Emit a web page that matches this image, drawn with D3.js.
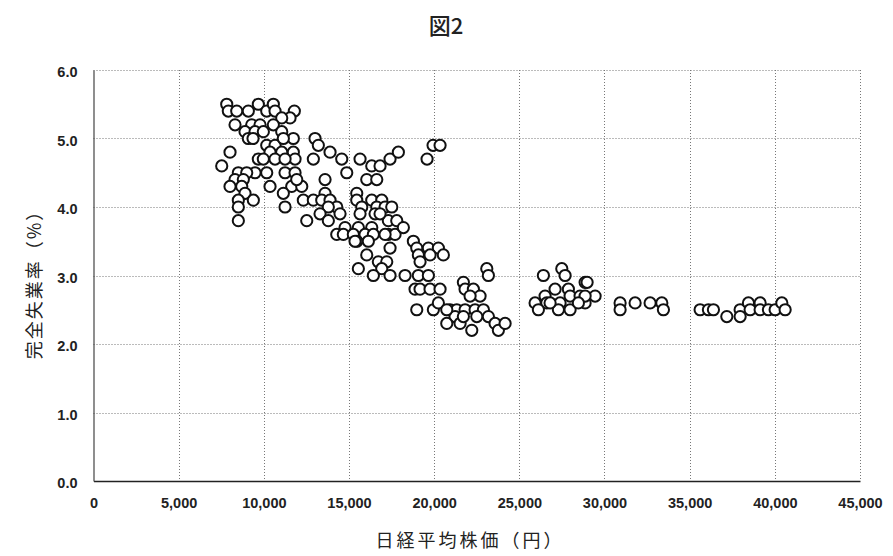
<!DOCTYPE html>
<html lang="ja">
<head>
<meta charset="utf-8">
<script src="https://cdn.jsdelivr.net/npm/d3@7"></script>
<style>
  html, body { margin: 0; padding: 0; background: #fff; }
  svg { display: block; }
</style>
</head>
<body>
<svg id="chart" width="893" height="556"></svg>
<script>
// 日経平均株価（円）と完全失業率（%）の月次データ
const nikkei = [
  7822, 7916, 8409, 9090, 9677, 10170, 10558, 10658, 11791, 11538,
  11051, 8309, 9289, 10558, 9777, 8896, 9483, 9971, 11051, 11732,
  9090, 9366, 10170, 10658, 11145, 8015, 9677, 10364, 11051, 11732,
  11832, 9971, 10658, 11245, 7528, 9483, 10170, 11245, 8503, 8996,
  11832, 8309, 8796, 8015, 10364, 8702, 11638, 12226, 8896, 11145,
  9384, 8503, 12319, 11245, 8503, 8503, 12519,
  13006, 13200, 12907, 13887, 14574, 15649, 16336, 16823, 17410, 17898,
  14868, 16042, 16630, 13594, 11932, 13594, 12907, 13400, 13887, 14281,
  13787, 13300, 13787, 14474, 15455, 15455, 16336, 16923, 16630, 17117,
  17510, 15749, 15649, 16530, 17311, 17804, 14768, 15549, 16336, 14281,
  14668, 15255, 15942, 16430, 17311, 17704, 15455, 17410, 16042,
  16823, 18192, 17117, 15355, 16136, 18779, 18978, 19072, 19660, 19172,
  20247, 19759, 20540, 16723, 17217, 15549, 16923, 16430, 17410, 18291,
  19072, 19660, 18878, 19172, 19759, 20346, 18978, 19953, 20247,
  19583, 19935, 20347,
  21715, 21815, 20934, 21327, 21815, 21227, 20740, 21521, 22302, 22695,
  22108, 23089, 23183, 20740, 22402, 22890, 21715, 22502, 23183, 22208,
  23576, 23770, 24164,
  26412, 27493, 27686, 28861, 27099, 27880, 26512, 25925, 26612, 27393,
  27980, 28567, 29448, 28861, 26119, 27293, 27980, 28861, 28467, 26806,
  28979,
  30916, 30916, 31797, 32678, 33365, 33459,
  35614, 36101, 36395, 37181, 37963, 37963, 38450, 38550, 39137, 39137,
  39624, 40018, 40411, 40605
];
const unemployment = [
  5.5, 5.4, 5.4, 5.4, 5.5, 5.4, 5.5, 5.4, 5.4, 5.3,
  5.3, 5.2, 5.2, 5.2, 5.2, 5.1, 5.1, 5.1, 5.1, 5.0,
  5.0, 5.0, 4.9, 4.9, 5.0, 4.8, 4.7, 4.8, 4.8, 4.8,
  4.7, 4.7, 4.7, 4.7, 4.6, 4.5, 4.5, 4.5, 4.5, 4.5,
  4.5, 4.4, 4.4, 4.3, 4.3, 4.3, 4.3, 4.3, 4.2, 4.2,
  4.1, 4.1, 4.1, 4.0, 4.0, 3.8, 3.8,
  5.0, 4.9, 4.7, 4.8, 4.7, 4.7, 4.6, 4.6, 4.7, 4.8,
  4.5, 4.4, 4.4, 4.4, 4.4, 4.2, 4.1, 4.1, 4.1, 4.0,
  4.0, 3.9, 3.8, 3.9, 4.2, 4.1, 4.1, 4.1, 4.0, 4.0,
  4.0, 4.0, 3.9, 3.9, 3.8, 3.8, 3.7, 3.7, 3.7, 3.6,
  3.6, 3.6, 3.6, 3.6, 3.6, 3.6, 3.5, 3.4, 3.3,
  3.9, 3.7, 3.6, 3.5, 3.5, 3.5, 3.4, 3.3, 3.4, 3.2,
  3.4, 3.3, 3.3, 3.2, 3.2, 3.1, 3.1, 3.0, 3.0, 3.0,
  3.0, 3.0, 2.8, 2.8, 2.8, 2.8, 2.5, 2.5, 2.6,
  4.7, 4.9, 4.9,
  2.9, 2.8, 2.5, 2.5, 2.5, 2.4, 2.3, 2.3, 2.8, 2.7,
  2.7, 3.1, 3.0, 2.5, 2.5, 2.5, 2.4, 2.4, 2.4, 2.2,
  2.3, 2.2, 2.3,
  3.0, 3.1, 3.0, 2.9, 2.8, 2.8, 2.7, 2.6, 2.6, 2.6,
  2.7, 2.7, 2.7, 2.6, 2.5, 2.5, 2.5, 2.7, 2.6, 2.6,
  2.9,
  2.6, 2.5, 2.6, 2.6, 2.6, 2.5,
  2.5, 2.5, 2.5, 2.4, 2.5, 2.4, 2.6, 2.5, 2.6, 2.5,
  2.5, 2.5, 2.6, 2.5
];

const xTicks = [0, 5000, 10000, 15000, 20000, 25000, 30000, 35000, 40000, 45000];
const yTicks = [0, 1, 2, 3, 4, 5, 6];

const titleText = "図2";
const xTitle = "日経平均株価（円）";
const yTitle = "完全失業率（%）";

const points = nikkei.map((v, i) => ({ x: v, y: unemployment[i] }));

const svg = d3.select("#chart");
const plot = { left: 93.5, right: 860, top: 70, bottom: 481 };

const x = d3.scaleLinear().domain([0, 45000]).range([plot.left, plot.right]);
const y = d3.scaleLinear().domain([0, 6]).range([plot.bottom, plot.top]);

svg.append("rect").attr("width", 893).attr("height", 556).attr("fill", "#fff");

// 点線のグリッド
const grid = svg.append("g").attr("class", "grid")
  .attr("stroke", "#777").attr("stroke-width", 1).attr("stroke-dasharray", "1,2");
grid.selectAll("line.h").data(yTicks.filter(d => d > 0)).join("line")
  .attr("class", "h")
  .attr("x1", plot.left).attr("x2", plot.right)
  .attr("y1", d => Math.round(y(d)) + 0.5).attr("y2", d => Math.round(y(d)) + 0.5);
grid.selectAll("line.v").data(xTicks.filter(d => d > 0)).join("line")
  .attr("class", "v")
  .attr("y1", plot.top).attr("y2", plot.bottom)
  .attr("x1", d => Math.round(x(d)) + 0.5).attr("x2", d => Math.round(x(d)) + 0.5);

// 軸
const xAxis = d3.axisBottom(x).tickValues(xTicks).tickSize(0).tickPadding(17)
  .tickFormat(d3.format(","));
const yAxis = d3.axisLeft(y).tickValues(yTicks).tickSize(0).tickPadding(16)
  .tickFormat(d3.format(".1f"));

const gx = svg.append("g").attr("transform", `translate(0,${plot.bottom})`).call(xAxis);
const gy = svg.append("g").attr("transform", `translate(${plot.left},0)`).call(yAxis);

gx.select(".domain").attr("stroke", "#222").attr("stroke-width", 1.6);
gy.select(".domain").attr("stroke", "#444").attr("stroke-width", 1.2);
[gx, gy].forEach(g => g.selectAll("text")
  .attr("font-family", "'Liberation Sans', Arial, sans-serif")
  .attr("font-size", 14.5).attr("font-weight", "bold").attr("fill", "#222"));
gy.selectAll("text").attr("dy", "0.45em");

// 散布点
svg.append("g").selectAll("circle").data(points).join("circle")
  .attr("cx", d => x(d.x)).attr("cy", d => y(d.y))
  .attr("r", 5.6).attr("fill", "#fff").attr("stroke", "#111").attr("stroke-width", 2);

// タイトル
svg.append("text").attr("x", 446).attr("y", 34).attr("text-anchor", "middle")
  .attr("font-family", "'Noto Sans CJK JP', sans-serif").attr("font-size", 22)
  .attr("font-weight", 500).attr("fill", "#222").text(titleText);

svg.append("text").attr("x", 470).attr("y", 547).attr("text-anchor", "middle")
  .attr("font-family", "'Noto Sans CJK JP', sans-serif").attr("font-size", 18)
  .attr("letter-spacing", 3).attr("fill", "#222").text(xTitle);

svg.append("text").attr("transform", "translate(41,280) rotate(-90)")
  .attr("text-anchor", "middle")
  .attr("font-family", "'Noto Sans CJK JP', sans-serif").attr("font-size", 18)
  .attr("letter-spacing", 2).attr("fill", "#222").text(yTitle);
</script>
</body>
</html>
